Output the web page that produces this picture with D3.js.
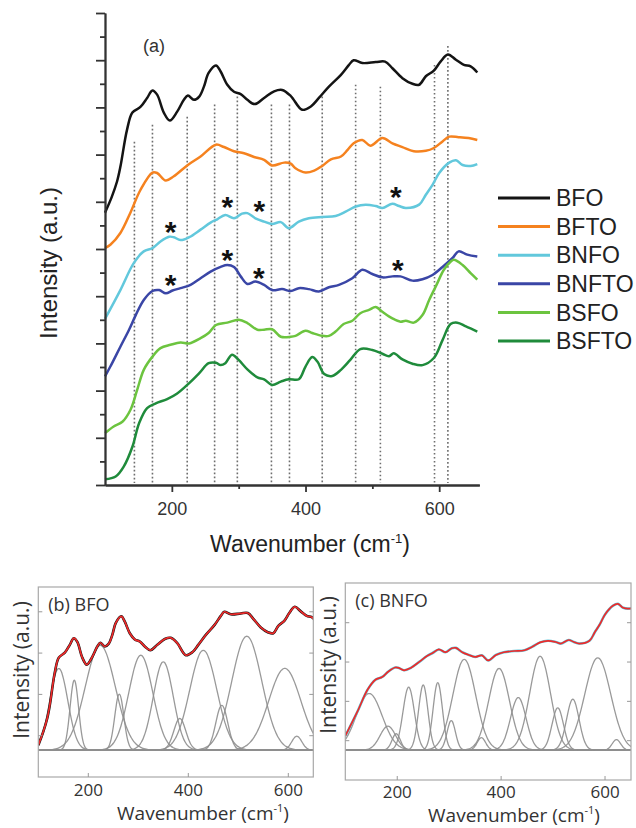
<!DOCTYPE html>
<html><head><meta charset="utf-8">
<script src="https://cdn.jsdelivr.net/npm/d3@7"></script>
<style>body{margin:0;background:#fff} svg{display:block}</style>
</head><body>
<svg id="c" width="636" height="828"></svg>
<script>
// ---------- DATA ----------
const names = ["BFO","BFTO","BNFO","BNFTO","BSFO","BSFTO"];
const wavenumberTicks = [200,400,600];
const wavenumberMinorTicks = [300,500];

const BFO = [[100,57.7],[110,61.0],[118,64.3],[123,67.4],[133,75.3],[141,78.9],[153,80.1],[163,82.0],[171,83.6],[178,82.7],[188,78.9],[197,77.2],[208,79.1],[218,81.6],[224,82.5],[233,81.6],[241,82.3],[248,84.4],[255,87.3],[266,88.9],[273,87.6],[283,84.8],[293,83.3],[303,82.8],[313,81.6],[324,80.7],[338,82.0],[353,83.4],[365,83.7],[378,82.4],[395,79.5],[408,80.2],[420,82.0],[435,84.4],[453,86.9],[465,89.0],[472,90.0],[485,89.4],[505,89.6],[519,89.7],[530,88.3],[545,86.2],[560,85.0],[570,84.8],[580,86.6],[592,87.8],[602,89.7],[613,91.2],[625,90.1],[637,89.0],[647,88.7],[657,87.4]];
const BFTO = [[100,50.2],[108,50.9],[123,53.4],[138,57.7],[153,62.5],[171,66.2],[178,66.1],[191,64.5],[203,65.4],[224,67.8],[243,69.6],[266,72.1],[278,71.6],[293,70.7],[308,70.3],[323,69.5],[338,68.9],[350,67.7],[368,68.3],[378,68.1],[385,67.1],[400,66.2],[413,66.6],[425,67.6],[438,69.0],[453,69.6],[463,71.0],[472,72.4],[485,73.1],[497,71.9],[515,73.5],[530,72.4],[545,71.6],[562,70.7],[580,70.8],[592,71.4],[605,72.8],[615,73.8],[629,73.7],[644,73.5],[657,73.1]];
const BNFO = [[100,35.2],[123,41.3],[143,47.0],[158,49.5],[171,50.2],[183,51.6],[196,52.6],[203,52.5],[213,51.9],[226,52.5],[243,54.1],[258,55.6],[268,56.3],[280,57.2],[293,56.5],[305,57.5],[313,57.6],[325,56.5],[338,55.8],[350,55.3],[363,55.7],[375,54.4],[390,55.8],[405,56.5],[425,56.8],[445,57.0],[460,57.9],[475,59.0],[490,59.4],[505,59.1],[515,58.7],[530,59.6],[540,59.1],[550,58.7],[570,59.4],[580,61.5],[590,63.6],[600,66.1],[615,68.3],[625,68.8],[635,67.8],[647,67.6],[657,68.0]];
const BNFTO = [[100,23.0],[108,25.1],[123,29.3],[136,32.9],[146,36.0],[158,39.2],[171,41.1],[181,41.3],[191,40.6],[201,41.2],[213,41.7],[228,42.4],[243,43.8],[258,45.2],[273,46.2],[283,46.6],[293,46.2],[303,44.2],[313,42.6],[325,43.1],[338,42.4],[350,41.3],[365,41.5],[378,41.1],[390,41.7],[405,41.5],[420,41.0],[435,41.9],[450,42.4],[470,43.8],[485,45.6],[500,44.7],[515,44.0],[530,44.2],[542,44.2],[560,43.3],[575,43.6],[590,44.5],[605,46.2],[620,48.1],[629,49.5],[642,48.8],[657,48.4]];
const BSFO = [[100,11.0],[113,12.4],[126,13.4],[138,15.9],[148,20.1],[158,24.4],[171,27.2],[183,29.0],[198,29.7],[213,30.2],[226,30.0],[243,31.1],[255,32.2],[266,33.9],[283,34.4],[300,35.0],[313,34.3],[328,32.9],[338,32.9],[350,33.0],[363,31.4],[378,31.4],[385,31.6],[400,32.7],[410,32.2],[425,31.6],[435,31.6],[445,32.5],[457,34.1],[470,34.8],[482,36.4],[495,37.1],[505,37.7],[515,36.7],[530,35.3],[542,34.6],[550,34.8],[562,34.4],[575,36.0],[585,39.2],[596,42.4],[607,45.6],[617,47.3],[622,47.7],[635,46.6],[647,44.9],[657,43.5]];
const BSFTO = [[100,1.2],[116,1.8],[128,3.9],[141,8.1],[151,13.1],[163,16.3],[176,17.3],[193,18.2],[208,19.4],[226,21.6],[241,23.7],[255,25.8],[266,25.9],[273,25.4],[280,25.8],[290,27.6],[300,26.5],[313,24.5],[328,22.8],[338,22.4],[350,21.2],[363,21.9],[375,22.4],[390,22.4],[400,25.1],[410,27.1],[418,26.1],[428,23.5],[440,23.1],[453,24.4],[467,26.5],[482,28.8],[500,28.6],[515,27.8],[525,27.3],[532,27.9],[545,26.6],[560,25.7],[575,25.4],[592,26.9],[605,30.7],[617,34.1],[627,34.4],[640,33.6],[657,32.5]];

// Raman mode markers (dotted lines): wavenumber and top intensity
const markerWn  = [144,171,223,264,298,349,376,425,475,512,593,613];
const markerTop = [72.7,76.3,78.0,80.6,82.3,80.6,80.6,82.3,84.8,84.4,89.0,93.0];

// asterisks (new modes)
const starWn = [198,283,331,535,198,283,330,538];
const starI  = [55.1,60.4,59.6,62.5,43.9,49.2,45.4,47.1];

// (b) BFO fitted peaks
const bfoPeakCenter = [141,172,224,262,305,350,383,430,467,517,593,617];
const bfoPeakHeight = [19.8,17.1,25.4,13.7,23.0,21.4,7.7,24.2,10.9,27.6,19.8,3.4];
const bfoPeakWidth  = [18,8.5,30,9,24,20,12,27,12,30,32,10];
const bfoBaseline = 56.5;

// (c) BNFO fitted peaks
const bnfoPeakCenter = [146,182,198,222,250,278,304,329,362,396,433,475,509,538,586,622];
const bnfoPeakHeight = [14.4,6.1,4.2,16.1,16.7,17.3,7.6,23.1,3.2,20.8,13.4,23.9,10.8,13.0,23.5,2.7];
const bnfoPeakWidth  = [25,15,8,11,9,9,8,22,8,20,15,20,11,12,25,8];
const bnfoBaseline = 31.6;

// ---------- STYLE ----------
const colors = ["#141414","#f5821f","#62c8dc","#3a46a6","#6cc43f","#1f8b3b"];
const fontA = "'Liberation Sans', Arial, sans-serif";
const fontB = "'Open Sans', 'Noto Sans', sans-serif";

const svg = d3.select("#c");
const spectra = [BFO,BFTO,BNFO,BNFTO,BSFO,BSFTO];

// ================= PANEL (a) =================
const xa = d3.scaleLinear().domain([100,660]).range([105,479.3]);
const ya = d3.scaleLinear().domain([0,100]).range([485,13]);
const ga = svg.append("g");

ga.selectAll("line.mk").data(markerWn).join("line").attr("class","mk")
  .attr("x1",d=>xa(d)).attr("x2",d=>xa(d))
  .attr("y1",(d,i)=>ya(markerTop[i])).attr("y2",ya(0.4))
  .attr("stroke","#6e6e6e").attr("stroke-width",1.6).attr("stroke-dasharray","1.6,2.4");

const lineA = d3.line().x(d=>xa(d[0])).y(d=>ya(d[1])).curve(d3.curveCatmullRom.alpha(0.5));
spectra.forEach((s,i)=>{
  ga.append("path").datum(s).attr("d",lineA).attr("fill","none")
    .attr("stroke",colors[i]).attr("stroke-width",2.5).attr("stroke-linejoin","round");
});

ga.selectAll("text.star").data(starWn).join("text").attr("class","star")
  .attr("x",d=>xa(d)).attr("y",(d,i)=>ya(starI[i])+17)
  .attr("text-anchor","middle").attr("font-family",fontA).attr("font-weight","bold")
  .attr("font-size",30).attr("fill","#111").text("*");

function styleAxis(g){
  g.selectAll("path,line").attr("stroke","#333").attr("stroke-width",1.8);
}
const yMaj = d3.axisLeft(ya).tickValues(d3.range(0,101,10)).tickSize(9).tickSizeOuter(0).tickFormat("");
const yMin = d3.axisLeft(ya).tickValues(d3.range(5,100,10)).tickSize(5).tickSizeOuter(0).tickFormat("");
ga.append("g").attr("transform",`translate(${xa(100)},0)`).call(yMaj).call(styleAxis);
ga.append("g").attr("transform",`translate(${xa(100)},0)`).call(yMin).call(styleAxis);

const xMaj = d3.axisBottom(xa).tickValues(wavenumberTicks).tickSize(7).tickSizeOuter(0);
const xMin = d3.axisBottom(xa).tickValues(wavenumberMinorTicks).tickSize(4).tickSizeOuter(0).tickFormat("");
const gx = ga.append("g").attr("transform",`translate(0,${ya(0)})`).call(xMaj).call(styleAxis);
gx.selectAll("text").attr("y",30).attr("dy",0).attr("font-size",18).attr("font-family",fontA).attr("fill","#333");
ga.append("g").attr("transform",`translate(0,${ya(0)})`).call(xMin).call(styleAxis);

ga.append("text").attr("x",143).attr("y",52).attr("font-family",fontA).attr("font-size",18).attr("fill","#333").text("(a)");

// axis titles
const xt = ga.append("text").attr("x",310).attr("y",552).attr("text-anchor","middle")
  .attr("font-family",fontA).attr("font-size",23).attr("fill","#222");
xt.append("tspan").text("Wavenumber (cm");
xt.append("tspan").attr("font-size",13).attr("dy",-9).text("-1");
xt.append("tspan").attr("dy",9).text(")");
ga.append("text").attr("transform","translate(57,263) rotate(-90)").attr("text-anchor","middle")
  .attr("font-family",fontA).attr("font-size",24).attr("fill","#222").text("Intensity (a.u.)");

// legend
const lg = ga.append("g");
names.forEach((n,i)=>{
  const y = 198 + i*28.6;
  lg.append("line").attr("x1",498).attr("x2",550).attr("y1",y).attr("y2",y)
    .attr("stroke",colors[i]).attr("stroke-width",3);
  lg.append("text").attr("x",556).attr("y",y).attr("dy","0.36em")
    .attr("font-family",fontA).attr("font-size",23).attr("fill","#222").text(n);
});

// ================= PANELS (b), (c) =================
function fitPanel(opt){
  const {x0,x1,yTop,yBot,yDom,tickVals,data,obsColor,centers,heights,widths,base,label,ylabX,ylabY,xlabX,xlabY,tickY,id} = opt;
  const x = d3.scaleLinear().domain([100,650]).range([x0,x1]);
  const y = d3.scaleLinear().domain(yDom).range([yBot,yTop]);
  const g = svg.append("g");
  g.append("clipPath").attr("id",id).append("rect").attr("x",x0).attr("y",yTop).attr("width",x1-x0).attr("height",yBot-yTop);
  const inner = g.append("g").attr("clip-path",`url(#${id})`);
  inner.append("line").attr("x1",x0).attr("x2",x1).attr("y1",y(base)).attr("y2",y(base))
    .attr("stroke","#9a9a9a").attr("stroke-width",1.5);
  const grid = d3.range(100,651,2);
  const comp = d3.line().x(d=>x(d[0])).y(d=>y(d[1])).curve(d3.curveBasis);
  centers.forEach((c,i)=>{
    const pts = grid.map(w=>[w, base + heights[i]*Math.exp(-((w-c)*(w-c))/(2*widths[i]*widths[i]))]);
    inner.append("path").datum(pts).attr("d",comp).attr("fill","none")
      .attr("stroke","#8e8e8e").attr("stroke-width",1.3).attr("opacity",0.9);
  });
  const ln = d3.line().x(d=>x(d[0])).y(d=>y(d[1])).curve(d3.curveCatmullRom.alpha(0.5));
  inner.append("path").datum(data).attr("d",ln).attr("fill","none").attr("stroke",obsColor).attr("stroke-width",2.6);
  inner.append("path").datum(data).attr("d",ln).attr("fill","none").attr("stroke","#ee2a2a").attr("stroke-width",1.7);
  g.append("rect").attr("x",x0).attr("y",yTop).attr("width",x1-x0).attr("height",yBot-yTop)
    .attr("fill","none").attr("stroke","#a8a8a8").attr("stroke-width",1.2);
  tickVals.forEach(t=>{
    g.append("line").attr("x1",x0).attr("x2",x0+4).attr("y1",y(t)).attr("y2",y(t)).attr("stroke","#999");
    g.append("line").attr("x1",x1-4).attr("x2",x1).attr("y1",y(t)).attr("y2",y(t)).attr("stroke","#999");
  });
  wavenumberTicks.forEach(t=>{
    g.append("line").attr("x1",x(t)).attr("x2",x(t)).attr("y1",yBot).attr("y2",yBot-4).attr("stroke","#999");
    g.append("text").attr("x",x(t)).attr("y",tickY).attr("text-anchor","middle")
      .attr("font-family",fontB).attr("font-size",17).attr("fill","#333").text(t);
  });
  g.append("text").attr("x",x0+10).attr("y",yTop+24).attr("font-family",fontB).attr("font-size",18).attr("fill","#333").text(label);
  const xt = g.append("text").attr("x",xlabX).attr("y",xlabY).attr("text-anchor","middle")
    .attr("font-family",fontB).attr("font-size",19).attr("fill","#333");
  xt.append("tspan").text("Wavenumber  (cm");
  xt.append("tspan").attr("font-size",11).attr("dy",-8).text("-1");
  xt.append("tspan").attr("dy",8).text(")");
  g.append("text").attr("transform",`translate(${ylabX},${ylabY}) rotate(-90)`).attr("text-anchor","middle")
    .attr("font-family",fontB).attr("font-size",21).attr("fill","#333").text("Intensity (a.u.)");
}

fitPanel({id:"cb",x0:38.3,x1:313.3,yTop:587,yBot:777,yDom:[50,96],tickVals:[60,70,80,90],
  data:BFO,obsColor:"#111",centers:bfoPeakCenter,heights:bfoPeakHeight,widths:bfoPeakWidth,base:bfoBaseline,
  label:"(b) BFO",ylabX:29,ylabY:670,xlabX:203,xlabY:820,tickY:796});
fitPanel({id:"cc",x0:345.3,x1:631,yTop:583,yBot:780,yDom:[24,74.1],tickVals:[34,44,54,64],
  data:BNFO,obsColor:"#62c8dc",centers:bnfoPeakCenter,heights:bnfoPeakHeight,widths:bnfoPeakWidth,base:bnfoBaseline,
  label:"(c) BNFO",ylabX:336,ylabY:665,xlabX:514,xlabY:822,tickY:798});
</script>
</body></html>
